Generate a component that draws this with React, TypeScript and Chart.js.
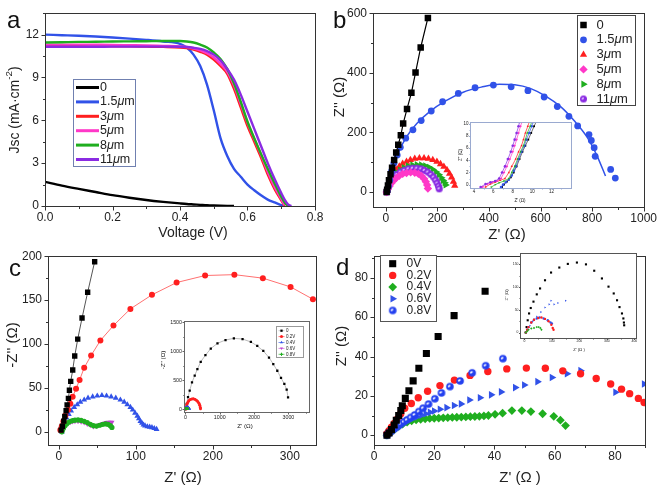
import React, { useEffect, useRef } from 'react';
import { Chart, registerables } from 'chart.js';

Chart.register(...registerables);

const FONT = '"Liberation Sans", Arial, Helvetica, sans-serif';
const INK = '#222222';

const BLACK = '#000000';
const BLUE = '#3152e8';
const RED = '#ff1f1f';
const PINK = '#ff38c8';
const GREEN = '#1fae1f';
const PURPLE = '#8a2be2';
const MAGENTA = '#c040d0';

// ---------------- panel a : J–V ----------------
const voltage = [0, 0.05, 0.1, 0.15, 0.2, 0.25, 0.3, 0.35, 0.4, 0.42, 0.44, 0.46, 0.48, 0.5, 0.52, 0.54, 0.56, 0.58, 0.6, 0.62, 0.64, 0.66, 0.68, 0.7, 0.71, 0.72, 0.73];
const jsc0 = [1.69, 1.43, 1.2, 0.98, 0.76, 0.58, 0.42, 0.29, 0.18, 0.14, 0.11, 0.08, 0.05, 0.03, 0.015, 0.005, 0, null, null, null, null, null, null, null, null, null, null];
const jsc15 = [12.0, 11.96, 11.92, 11.87, 11.8, 11.72, 11.63, 11.52, 11.36, 11.1, 10.6, 9.8, 8.5, 6.7, 4.75, 3.5, 2.6, 2.05, 1.5, 1.1, 0.75, 0.45, 0.25, 0.06, 0, null, null];
const jsc3 = [11.2, 11.2, 11.2, 11.2, 11.19, 11.18, 11.16, 11.14, 11.1, 11.05, 10.95, 10.8, 10.6, 10.25, 9.8, 9.25, 8.2, 6.9, 5.6, 4.5, 3.4, 2.2, 1.2, 0.4, 0, null, null];
const jsc5 = [11.3, 11.3, 11.3, 11.29, 11.28, 11.26, 11.24, 11.21, 11.18, 11.13, 11.03, 10.9, 10.7, 10.4, 9.95, 9.4, 8.45, 7.15, 5.85, 4.7, 3.6, 2.4, 1.35, 0.5, 0.05, null, null];
const jsc8 = [11.45, 11.47, 11.49, 11.5, 11.52, 11.53, 11.54, 11.55, 11.55, 11.52, 11.45, 11.3, 11.1, 10.75, 10.3, 9.6, 8.6, 7.3, 5.9, 4.75, 3.65, 2.6, 1.6, 0.65, 0.25, 0, null];
const jsc11 = [11.15, 11.15, 11.15, 11.15, 11.16, 11.16, 11.16, 11.16, 11.15, 11.13, 11.08, 11.0, 10.85, 10.6, 10.2, 9.6, 8.85, 7.8, 6.6, 5.4, 4.2, 3.0, 1.9, 0.9, 0.45, 0.12, 0];
const labelsA = ['0', '1.5μm', '3μm', '5μm', '8μm', '11μm'];
const ticksAx = [0, 0.2, 0.4, 0.6, 0.8];
const minorAx = [0.1, 0.3, 0.5, 0.7];
const ticksAy = [0, 3, 6, 9, 12];
const minorAy = [1.5, 4.5, 7.5, 10.5, 13.5];

// ---------------- panel b : Nyquist (thickness) ----------------
const bRe0 = [3, 5, 8, 12, 18, 24, 32, 40, 48, 58, 67, 82, 99, 115, 135, 163];
const bIm0 = [0, 8, 22, 40, 60, 82, 108, 133, 159, 191, 230, 279, 333, 401, 485, 584];
const bRe15 = [5, 10, 15, 22, 31, 44, 56, 77, 105, 137, 176, 220, 281, 346, 417, 486, 551, 614, 665, 710, 744, 788, 797, 808, 812, 872, 890];
const bIm15 = [3, 20, 40, 70, 97, 124, 150, 181, 209, 240, 272, 303, 331, 350, 359, 353, 340, 319, 287, 254, 222, 193, 173, 149, 120, 76, 47];
const bFitRe = [0, 10, 25, 50, 80, 120, 170, 230, 300, 370, 440, 500, 560, 620, 680, 730, 780, 820, 852];
const bFitIm = [0, 35, 80, 135, 185, 230, 270, 305, 335, 352, 362, 360, 348, 322, 285, 240, 185, 120, 54];
const bRe3 = [3, 6, 10, 15, 22, 30, 40, 52, 65, 80, 95, 112, 130, 148, 165, 182, 198, 212, 225, 237, 247, 255, 262, 267];
const bIm3 = [0, 12, 25, 38, 52, 64, 75, 86, 95, 102, 108, 112, 114, 114, 112, 108, 102, 94, 85, 74, 62, 49, 35, 22];
const bRe5 = [3, 8, 14, 21, 30, 40, 52, 65, 80, 96, 112, 126, 138, 148, 155, 160, 163];
const bIm5 = [0, 10, 20, 30, 39, 47, 55, 61, 64, 66, 65, 61, 54, 45, 35, 24, 12];
const bRe8 = [3, 6, 10, 16, 23, 32, 42, 55, 70, 86, 103, 120, 137, 153, 168, 182, 195, 206, 215, 222, 228, 232];
const bIm8 = [0, 10, 22, 34, 45, 56, 65, 74, 82, 88, 91, 92, 91, 88, 83, 76, 67, 58, 48, 39, 31, 24];
const bRe11 = [3, 6, 10, 16, 23, 32, 43, 56, 71, 87, 103, 120, 136, 150, 163, 175, 185, 193, 199, 204, 207];
const bIm11 = [0, 9, 19, 30, 40, 50, 59, 67, 73, 78, 80, 80, 78, 73, 67, 59, 50, 40, 30, 20, 11];
const labelsB = ['0', '1.5μm', '3μm', '5μm', '8μm', '11μm'];
const ticksBx = [0, 200, 400, 600, 800, 1000];
const minorBx = [100, 300, 500, 700, 900];
const ticksBy = [0, 200, 400, 600];
const minorBy = [100, 300, 500];

// inset b (high-frequency zoom)
const biRe11 = [4.7, 5.2, 5.7, 6.2, 6.6, 6.9, 7.2, 7.5, 7.8, 8.0, 8.2, 8.4, 8.6, 8.7];
const biIm11 = [-0.4, 0.1, 0.4, 0.6, 1.0, 2.0, 3.0, 4.2, 5.4, 6.4, 7.4, 8.5, 9.6, 10.3];
const biRe5 = [4.9, 5.4, 5.9, 6.4, 6.8, 7.1, 7.4, 7.7, 8.0, 8.2, 8.4, 8.6, 8.8, 8.95];
const biIm5 = [-0.4, 0.1, 0.4, 0.6, 1.0, 2.0, 3.0, 4.2, 5.4, 6.4, 7.4, 8.5, 9.6, 10.3];
const biRe3 = [5.2, 5.7, 6.2, 6.7, 7.2, 7.6, 7.9, 8.3, 8.6, 8.9, 9.1, 9.3, 9.55, 9.7];
const biIm3 = [-0.4, 0.1, 0.4, 0.7, 1.0, 2.0, 3.0, 4.2, 5.4, 6.4, 7.4, 8.5, 9.6, 10.3];
const biRe8 = [5.8, 6.2, 6.6, 7.1, 7.6, 7.9, 8.2, 8.5, 8.8, 9.1, 9.3, 9.5, 9.8, 9.95];
const biIm8 = [-0.4, 0, 0.3, 0.6, 1.0, 2.0, 3.0, 4.2, 5.4, 6.4, 7.4, 8.5, 9.6, 10.3];
const biRe15 = [6.8, 7.0, 7.3, 7.6, 7.9, 8.1, 8.3, 8.6, 8.9, 9.2, 9.4, 9.7, 9.95, 10.1];
const biIm15 = [-0.4, 0, 0.4, 0.8, 1.5, 2.3, 3.0, 4.2, 5.4, 6.4, 7.4, 8.5, 9.6, 10.3];
const biRe0 = [6.9, 7.1, 7.4, 7.8, 8.1, 8.4, 8.7, 9.0, 9.3, 9.6, 9.9, 10.2, 10.4];
const biIm0 = [-0.4, 0, 0.5, 1.2, 2.0, 3.0, 4.2, 5.4, 6.4, 7.4, 8.5, 9.6, 10.3];
const ticksBix = [4, 6, 8, 10, 12];
const minorBix = [5, 7, 9, 11, 13];
const ticksBiy = [0, 2, 4, 6, 8, 10];
const minorBiy = [1, 3, 5, 7, 9];

// ---------------- panel c : Nyquist (bias, reference) ----------------
const cRe0 = [3, 4.7, 6.5, 7.8, 9.5, 10.8, 12.5, 13.8, 15.5, 18.1, 20.7, 24.6, 30.2, 37.5, 46.6];
const cIm0 = [1.9, 6.3, 12.2, 17.4, 24, 30.7, 38.1, 47.4, 57.4, 70.4, 86.3, 105.6, 129.6, 159, 193.7];
const cRe02 = [2, 3.9, 6, 8.6, 12, 15, 18, 22.4, 27, 33, 42, 54, 71, 93, 121, 153, 190, 228, 265, 301, 330];
const cIm02 = [2, 6.3, 12, 18.5, 25, 32, 40, 49, 59, 73, 87, 104, 121, 140, 156, 170, 178, 179, 175, 165, 151];
const cRe04 = [4, 5, 6, 8, 10, 13, 16, 20, 24, 28, 33, 38, 44, 50, 56, 62, 68, 74, 80, 85, 89, 93, 96, 99, 102, 104, 106, 108, 110, 112, 115, 118, 121, 124, 127];
const cIm04 = [0, 4, 8, 12, 16, 20, 24, 28, 31, 34, 36.5, 38.5, 40, 41, 41.5, 41, 40, 38.5, 36.5, 34, 31, 28, 25, 21.5, 18, 15, 12, 10, 8, 7, 6, 5.5, 5, 4, 3];
const cRe06 = [4, 5, 6, 8, 10, 12, 15, 18, 21, 25, 29, 33, 37, 41, 45, 49, 53, 57, 61, 64, 67, 69];
const cIm06 = [0, 2, 4, 6.5, 8.5, 10, 11, 11.8, 12, 12, 11.5, 10.5, 9, 7.5, 6.2, 6.5, 8, 9.5, 10.5, 10.8, 11, 11];
const cRe08 = [4, 5, 6, 8, 10, 12, 15, 18, 21, 25, 29, 33, 37, 41, 45, 49, 53, 57, 61, 64, 67, 69];
const cIm08 = [0, 2.5, 4.5, 7, 9, 10.5, 12, 12.8, 13.3, 13.5, 13, 12, 10.5, 8.5, 7, 6.5, 7.5, 8.5, 9, 8.5, 7, 5];
const ticksCx = [0, 100, 200, 300];
const minorCx = [50, 150, 250];
const ticksCy = [0, 50, 100, 150, 200];
const minorCy = [25, 75, 125, 175];

// inset c (full range)
const ciRe0 = [0, 20, 38, 77, 126, 193, 272, 350, 447, 584, 740, 935, 1169, 1412, 1665, 1908, 2093, 2269, 2435, 2560, 2677, 2785, 2882, 2950, 2990];
const ciIm0 = [0, 40, 92, 206, 321, 463, 578, 693, 819, 933, 1047, 1139, 1196, 1225, 1213, 1162, 1093, 1007, 893, 779, 664, 539, 436, 338, 205];
const ciRe02 = [20, 30, 45, 70, 100, 140, 185, 230, 275, 320, 360, 395, 420, 435, 440];
const ciIm02 = [0, 40, 80, 115, 145, 165, 175, 178, 172, 155, 130, 100, 65, 30, 5];
const labelsC = ['0', '0.2V', '0.4V', '0.6V', '0.8V'];
const ticksCix = [0, 1000, 2000, 3000];
const minorCix = [500, 1500, 2500, 3500];
const ticksCiy = [0, 500, 1000, 1500];
const minorCiy = [250, 750, 1250];

// ---------------- panel d : Nyquist (bias, device) ----------------
const dRe0 = [4.3, 5, 5.8, 6.7, 7.4, 8.2, 8.9, 9.4, 10.4, 11.6, 13, 14.9, 17.4, 21.3, 26.6, 36.9];
const dIm0 = [0, 1.1, 2.8, 5.2, 7.6, 10, 12.5, 15, 18.7, 22.6, 27.6, 34, 41.5, 50.2, 60.8, 73.2];
const dRe02 = [4.3, 5, 5.8, 6.7, 7.7, 8.9, 10.2, 12.4, 14.7, 17.8, 21.9, 26.7, 31.9, 37.8, 44.1, 50.6, 56.9, 62.7, 68.6, 73.8, 78.6, 82.2, 84.9, 87.8, 89.7];
const dIm02 = [0.8, 2.3, 4.1, 6, 8.1, 10.9, 13.7, 16.1, 19, 22.3, 25.2, 28, 30.4, 32.4, 33.7, 34.1, 34, 32.7, 31.2, 28.8, 26, 23.4, 21.1, 18.7, 16.6];
const dRe04 = [4.3, 5, 6, 7, 8.2, 9.5, 11, 12.5, 14, 15.5, 17, 18.5, 20, 21.5, 23, 24.5, 26, 27.5, 29, 30.5, 32, 33.5, 35, 36.5, 38, 40.2, 42.7, 45.8, 49.1, 52.1, 56, 59.7, 61.9, 63.6];
const dIm04 = [0, 1, 2, 3.2, 4.5, 5.6, 6.6, 7.3, 7.8, 8.1, 8.3, 8.5, 8.6, 8.7, 8.8, 8.9, 9, 9.1, 9.2, 9.3, 9.4, 9.5, 9.6, 9.8, 10, 10.6, 11.2, 12.5, 12.5, 12, 10.9, 9.6, 7.6, 4.9];
const dRe06 = [4.3, 5, 5.8, 6.7, 7.7, 8.8, 10, 11.3, 12.7, 14.2, 15.8, 17.2, 18.6, 20, 21.9, 24.1, 26.6, 28.9, 31.7, 35.2, 38.9, 42.2, 46.9, 49.9, 54.3, 59.1, 64.1, 68.6, 80.2, 89.7];
const dIm06 = [0, 1.2, 2.4, 3.5, 4.6, 5.6, 6.6, 7.5, 8.4, 9.3, 10.2, 10.9, 11.6, 12.3, 13.2, 14, 15.1, 15.9, 17.9, 19, 20.5, 22, 24.2, 25.5, 27.2, 29.3, 31.2, 32.8, 21.8, 26];
const dRe08 = [4.3, 4.8, 5.4, 6, 6.7, 7.4, 8.2, 9, 10, 11, 12.2, 13.5, 14.9, 16.3, 18.1, 20.2, 22.4, 25.2, 28.6, 32.6, 37.1, 42.8];
const dIm08 = [0, 0.8, 1.6, 2.4, 3.2, 4, 4.9, 5.8, 6.8, 7.8, 9, 10.3, 12, 13.7, 15.8, 18.5, 21.5, 24.7, 27.6, 31.7, 35.3, 38.9];
const labelsD = ['0V', '0.2V', '0.4V', '0.6V', '0.8V'];
const ticksDx = [0, 20, 40, 60, 80];
const minorDx = [10, 30, 50, 70, 90];
const ticksDy = [0, 20, 40, 60, 80];
const minorDy = [10, 30, 50, 70, 90];

// inset d
const diRe0 = [5, 8, 12, 17, 23, 33, 45, 57, 75, 97, 127, 158, 191, 224, 254, 282, 306, 325, 337, 346, 355, 360, 362, 363];
const diIm0 = [0, 12, 27, 42, 54, 68, 84, 97, 115, 132, 143, 151, 154, 150, 136, 119, 101, 86, 71, 56, 42, 31, 22, 16];
const diRe02 = [5, 10, 15, 25, 35, 50, 62, 75, 88, 98, 103, 106];
const diIm02 = [0, 6, 12, 22, 28, 32, 33, 30, 25, 17, 10, 6];
const diRe04 = [5, 10, 15, 25, 35, 45, 52, 58, 62];
const diIm04 = [0, 3, 6, 9, 10, 12, 12, 10, 6];
const diRe06 = [5, 10, 20, 30, 45, 60, 75, 90, 97, 108, 122, 150];
const diIm06 = [0, 5, 15, 25, 35, 45, 55, 62, 70, 62, 65, 70];
const diRe08 = [5, 10, 15, 25, 35, 45, 55, 70, 85, 95, 100];
const diIm08 = [0, 6, 12, 22, 28, 31, 33, 31, 27, 22, 20];
const ticksDix = [0, 100, 200, 300, 400];
const minorDix = [50, 150, 250, 350];
const ticksDiy = [0, 50, 100, 150];
const minorDiy = [25, 75, 125];

// ---------------- helpers ----------------
type Mk = { style: string; r: number; color: string; rot?: number; img?: HTMLCanvasElement };
type Seg = { t: string; italic?: boolean; sup?: boolean };

function pts(xs: number[], ys: (number | null)[]) {
  const out: { x: number; y: number }[] = [];
  xs.forEach((x, i) => {
    const y = ys[i];
    if (y !== null && y !== undefined) out.push({ x, y });
  });
  return out;
}

function markerDs(xs: number[], ys: number[], mk: Mk, extra: any = {}) {
  return {
    data: pts(xs, ys),
    showLine: false,
    pointStyle: mk.img ?? mk.style,
    pointRadius: mk.r,
    pointRotation: mk.rot ?? 0,
    pointBackgroundColor: mk.color,
    pointBorderColor: mk.color,
    pointBorderWidth: 0,
    ...extra,
  };
}

function lineDs(xs: number[], ys: (number | null)[], color: string, width: number, extra: any = {}) {
  return {
    data: pts(xs, ys),
    showLine: true,
    borderColor: color,
    borderWidth: width,
    pointRadius: 0,
    cubicInterpolationMode: 'monotone',
    ...extra,
  };
}

function ballImage(color: string, r: number, inner: string, scale: number) {
  const c = document.createElement('canvas');
  const s = Math.ceil(r * 2 + 2);
  c.width = s;
  c.height = s;
  const g = c.getContext('2d')!;
  g.fillStyle = color;
  g.beginPath();
  g.arc(s / 2, s / 2, r, 0, Math.PI * 2);
  g.fill();
  g.fillStyle = inner;
  g.beginPath();
  g.ellipse(s / 2 - r * 0.2, s / 2 - r * 0.15, r * 0.42 * scale, r * 0.26 * scale, -0.6, 0, Math.PI * 2);
  g.fill();
  return c;
}

function richSegs(text: string): Seg[] {
  const out: Seg[] = [];
  let buf = '';
  for (const ch of text) {
    if (ch === 'μ') {
      if (buf) out.push({ t: buf });
      out.push({ t: ch, italic: true });
      buf = '';
    } else buf += ch;
  }
  if (buf) out.push({ t: buf });
  return out;
}

function drawRich(ctx: CanvasRenderingContext2D, segs: Seg[], x: number, y: number, size: number, align: string) {
  const fontOf = (s: Seg) => `${s.italic ? 'italic ' : ''}${s.sup ? size * 0.7 : size}px ${FONT}`;
  let total = 0;
  for (const s of segs) {
    ctx.font = fontOf(s);
    total += ctx.measureText(s.t).width;
  }
  let cx = align === 'center' ? x - total / 2 : x;
  ctx.textAlign = 'left';
  ctx.textBaseline = 'middle';
  for (const s of segs) {
    ctx.font = fontOf(s);
    ctx.fillText(s.t, cx, s.sup ? y - size * 0.38 : y);
    cx += ctx.measureText(s.t).width;
  }
}

function drawMarker(ctx: CanvasRenderingContext2D, m: Mk, x: number, y: number) {
  if (m.img) {
    ctx.drawImage(m.img, x - m.img.width / 2, y - m.img.height / 2);
    return;
  }
  const r = m.r;
  ctx.save();
  ctx.translate(x, y);
  ctx.rotate(((m.rot || 0) * Math.PI) / 180);
  ctx.fillStyle = m.color;
  ctx.strokeStyle = m.color;
  ctx.beginPath();
  if (m.style === 'rect') {
    const s = r * Math.SQRT1_2;
    ctx.rect(-s, -s, 2 * s, 2 * s);
    ctx.fill();
  } else if (m.style === 'circle') {
    ctx.arc(0, 0, r, 0, Math.PI * 2);
    ctx.fill();
  } else if (m.style === 'triangle') {
    for (let k = 0; k < 3; k++) {
      const a = (k * 2 * Math.PI) / 3;
      const px = Math.sin(a) * r;
      const py = -Math.cos(a) * r;
      if (k === 0) ctx.moveTo(px, py);
      else ctx.lineTo(px, py);
    }
    ctx.closePath();
    ctx.fill();
  } else if (m.style === 'rectRot') {
    ctx.moveTo(0, -r);
    ctx.lineTo(r, 0);
    ctx.lineTo(0, r);
    ctx.lineTo(-r, 0);
    ctx.closePath();
    ctx.fill();
  } else if (m.style === 'star') {
    ctx.lineWidth = 1;
    ctx.moveTo(-r, 0);
    ctx.lineTo(r, 0);
    ctx.moveTo(0, -r);
    ctx.lineTo(0, r);
    ctx.stroke();
  }
  ctx.restore();
}

type Axis = { min: number; max: number; major: number[]; minor: number[]; fmt?: (v: number) => string; font: number; pad: number };
type Title = { segs: Seg[]; x: number; y: number; size: number; rot?: boolean };
type LegendRow = { label: string; marker?: Mk; line?: string; lineW?: number };
type Legend = { box: number[]; border: string; rows: LegendRow[]; y0: number; dy: number; mx: number; half?: number; tx: number; font: number };
type Spec = {
  cx: number; cy: number; cw: number; ch: number;
  box: number[];
  x: Axis; y: Axis;
  datasets: any[];
  frame: string;
  tickLen: number; minorLen: number;
  titles: Title[];
  letter?: { text: string; x: number; y: number; size: number };
  legend?: Legend;
  bg?: string;
};

function decorPlugin(s: Spec) {
  return {
    id: 'decor',
    beforeDatasetsDraw(chart: any) {
      if (!s.bg) return;
      const { ctx, chartArea: a } = chart;
      ctx.save();
      ctx.fillStyle = s.bg;
      ctx.fillRect(a.left, a.top, a.right - a.left, a.bottom - a.top);
      ctx.restore();
    },
    afterDraw(chart: any) {
      const { ctx, chartArea: a, scales } = chart;
      const ox = s.cx;
      const oy = s.cy;
      ctx.save();
      ctx.strokeStyle = s.frame;
      ctx.lineWidth = 1;
      const bottom = Math.round(a.bottom) + 0.5;
      const left = Math.round(a.left) + 0.5;
      ctx.beginPath();
      const xt = (vals: number[], len: number) => {
        for (const v of vals) {
          const p = Math.round(scales.x.getPixelForValue(v)) + 0.5;
          if (p < a.left - 1 || p > a.right + 1) continue;
          ctx.moveTo(p, bottom);
          ctx.lineTo(p, bottom + len);
        }
      };
      const yt = (vals: number[], len: number) => {
        for (const v of vals) {
          const p = Math.round(scales.y.getPixelForValue(v)) + 0.5;
          if (p < a.top - 1 || p > a.bottom + 1) continue;
          ctx.moveTo(left, p);
          ctx.lineTo(left - len, p);
        }
      };
      xt(s.x.major, s.tickLen);
      xt(s.x.minor, s.minorLen);
      yt(s.y.major, s.tickLen);
      yt(s.y.minor, s.minorLen);
      ctx.stroke();
      ctx.strokeRect(left, Math.round(a.top) + 0.5, Math.round(a.right) - Math.round(a.left), Math.round(a.bottom) - Math.round(a.top));

      ctx.fillStyle = INK;
      for (const t of s.titles) {
        ctx.save();
        ctx.translate(t.x - ox, t.y - oy);
        if (t.rot) ctx.rotate(-Math.PI / 2);
        drawRich(ctx, t.segs, 0, 0, t.size, 'center');
        ctx.restore();
      }
      if (s.letter) {
        ctx.font = `${s.letter.size}px ${FONT}`;
        ctx.textAlign = 'left';
        ctx.textBaseline = 'alphabetic';
        ctx.fillStyle = '#111';
        ctx.fillText(s.letter.text, s.letter.x - ox, s.letter.y - oy);
      }
      const lg = s.legend;
      if (lg) {
        const [x0, y0, x1, y1] = lg.box;
        ctx.fillStyle = '#ffffff';
        ctx.fillRect(x0 - ox, y0 - oy, x1 - x0, y1 - y0);
        ctx.strokeStyle = lg.border;
        ctx.lineWidth = 1;
        ctx.strokeRect(Math.round(x0 - ox) + 0.5, Math.round(y0 - oy) + 0.5, Math.round(x1 - x0), Math.round(y1 - y0));
        lg.rows.forEach((row, i) => {
          const yy = lg.y0 + i * lg.dy - oy;
          const mx = lg.mx - ox;
          if (row.line) {
            ctx.strokeStyle = row.line;
            ctx.lineWidth = row.lineW ?? 1;
            ctx.beginPath();
            ctx.moveTo(mx - (lg.half ?? 0), yy);
            ctx.lineTo(mx + (lg.half ?? 0), yy);
            ctx.stroke();
          }
          if (row.marker) drawMarker(ctx, row.marker, mx, yy);
          ctx.fillStyle = INK;
          drawRich(ctx, richSegs(row.label), lg.tx - ox, yy, lg.font, 'left');
        });
      }
      ctx.restore();
    },
  };
}

function axisOpts(ax: Axis, horizontal: boolean, size: number) {
  return {
    type: 'linear',
    min: ax.min,
    max: ax.max,
    afterBuildTicks: (sc: any) => {
      sc.ticks = ax.major.map((v) => ({ value: v }));
    },
    afterFit: (sc: any) => {
      if (horizontal) sc.height = size;
      else sc.width = size;
    },
    ticks: {
      autoSkip: false,
      maxRotation: 0,
      minRotation: 0,
      padding: ax.pad,
      color: INK,
      font: { family: FONT, size: ax.font },
      callback: (v: number) => (ax.fmt ? ax.fmt(v) : String(v)),
    },
    grid: { display: false, drawTicks: false },
    border: { display: false },
  };
}

function makePlot(canvas: HTMLCanvasElement, s: Spec) {
  const [L, T, R, B] = s.box;
  return new Chart(canvas, {
    type: 'scatter',
    data: { datasets: s.datasets },
    options: {
      responsive: false,
      animation: false,
      devicePixelRatio: 1,
      events: [],
      layout: { autoPadding: false, padding: { left: 0, top: T - s.cy, right: s.cx + s.cw - R, bottom: 0 } },
      plugins: { legend: { display: false }, tooltip: { enabled: false } },
      scales: {
        x: axisOpts(s.x, true, s.cy + s.ch - B),
        y: axisOpts(s.y, false, L - s.cx),
      },
    } as any,
    plugins: [decorPlugin(s) as any],
  });
}

const T = (text: string): Seg[] => [{ t: text }];

// ---------------- specs ----------------
const RECT_A = { x: 0, y: 0, w: 330, h: 243 };
const RECT_B = { x: 330, y: 0, w: 331, h: 243 };
const RECT_BI = { x: 452, y: 117, w: 123, h: 89 };
const RECT_C = { x: 0, y: 243, w: 330, h: 243 };
const RECT_CI = { x: 155, y: 316, w: 158, h: 117 };
const RECT_D = { x: 330, y: 243, w: 331, h: 243 };
const RECT_DI = { x: 498, y: 249, w: 143, h: 108 };

function frameOf(r: { x: number; y: number; w: number; h: number }) {
  return { cx: r.x, cy: r.y, cw: r.w, ch: r.h };
}

function specA(): Spec {
  const colors = [BLACK, BLUE, RED, PINK, GREEN, PURPLE];
  const series = [jsc0, jsc15, jsc3, jsc5, jsc8, jsc11];
  const ds = series.map((ys, i) => lineDs(voltage, ys, colors[i], 2.4));
  return {
    ...frameOf(RECT_A),
    box: [45, 8, 315, 206],
    x: { min: 0, max: 0.8, major: ticksAx, minor: minorAx, fmt: (v) => v.toFixed(1), font: 12, pad: 4 },
    y: { min: 0, max: 13.5, major: ticksAy, minor: minorAy, font: 12, pad: 6 },
    datasets: ds.reverse(),
    frame: '#333',
    tickLen: 4,
    minorLen: 2.5,
    titles: [
      { segs: T('Voltage (V)'), x: 193, y: 233, size: 14 },
      { segs: [{ t: 'Jsc (mA·cm' }, { t: '-2', sup: true }, { t: ')' }], x: 15, y: 110, size: 14, rot: true },
    ],
    letter: { text: 'a', x: 7, y: 28, size: 24 },
    legend: {
      box: [73, 79, 135, 166],
      border: '#7080b0',
      rows: labelsA.map((l, i) => ({ label: l, line: colors[i], lineW: 3 })),
      y0: 87.5,
      dy: 14.4,
      mx: 87.5,
      half: 11.5,
      tx: 100,
      font: 12.5,
    },
  };
}

function specB(): Spec {
  const purpleBall = ballImage(PURPLE, 3.5, 'rgba(225,195,255,0.95)', 1);
  const mks: Mk[] = [
    { style: 'rect', r: 4.6, color: BLACK },
    { style: 'circle', r: 3.4, color: BLUE },
    { style: 'triangle', r: 4.2, color: RED },
    { style: 'rectRot', r: 4.2, color: PINK },
    { style: 'triangle', r: 4.2, color: GREEN, rot: 90 },
    { style: 'circle', r: 3.5, color: PURPLE, img: purpleBall },
  ];
  return {
    ...frameOf(RECT_B),
    box: [373, 7, 646, 207],
    x: { min: -50, max: 1000, major: ticksBx, minor: minorBx, font: 12, pad: 4 },
    y: { min: -50, max: 600, major: ticksBy, minor: minorBy, font: 12, pad: 6 },
    datasets: [
      lineDs(bRe0, bIm0, BLACK, 1.2, { cubicInterpolationMode: 'default', tension: 0 }),
      markerDs(bRe0, bIm0, mks[0]),
      lineDs(bFitRe, bFitIm, BLUE, 1.5),
      markerDs(bRe15, bIm15, mks[1]),
      markerDs(bRe5, bIm5, mks[3]),
      markerDs(bRe11, bIm11, mks[5]),
      markerDs(bRe8, bIm8, mks[4]),
      markerDs(bRe3, bIm3, mks[2]),
    ],
    frame: '#333',
    tickLen: 4,
    minorLen: 2.5,
    titles: [
      { segs: T("Z' (Ω)"), x: 507, y: 235, size: 15 },
      { segs: T("Z'' (Ω)"), x: 340, y: 97, size: 15, rot: true },
    ],
    letter: { text: 'b', x: 333, y: 28, size: 24 },
    legend: {
      box: [577, 15, 635, 105],
      border: '#444',
      rows: labelsB.map((l, i) => ({ label: l, marker: mks[i] })),
      y0: 25,
      dy: 14.8,
      mx: 583.5,
      tx: 596.5,
      font: 13,
    },
  };
}

function specBi(): Spec {
  const lw = 0.7;
  const m = (color: string, style: string, rot = 0): Mk => ({ style, r: 1.3, color, rot });
  return {
    ...frameOf(RECT_BI),
    box: [470, 122, 571, 188],
    x: { min: 3.6, max: 14, major: ticksBix, minor: minorBix, font: 4.5, pad: 1.5 },
    y: { min: -0.55, max: 10.3, major: ticksBiy, minor: minorBiy, font: 4.5, pad: 1.5 },
    datasets: [
      markerDs(biRe11, biIm11, m(PURPLE, 'circle'), { showLine: true, borderColor: PURPLE, borderWidth: lw }),
      markerDs(biRe5, biIm5, m(PINK, 'rectRot'), { showLine: true, borderColor: PINK, borderWidth: lw }),
      markerDs(biRe3, biIm3, m(RED, 'triangle'), { showLine: true, borderColor: RED, borderWidth: lw }),
      markerDs(biRe8, biIm8, m(GREEN, 'triangle', 90), { showLine: true, borderColor: GREEN, borderWidth: lw }),
      markerDs(biRe15, biIm15, m(BLUE, 'circle'), { showLine: true, borderColor: BLUE, borderWidth: lw }),
      markerDs(biRe0, biIm0, m(BLACK, 'rect'), { showLine: true, borderColor: '#333', borderWidth: lw }),
    ],
    frame: '#9aaad0',
    tickLen: 1.5,
    minorLen: 1,
    titles: [
      { segs: T("Z' (Ω)"), x: 520, y: 200.5, size: 4.5 },
      { segs: T("Z'' (Ω)"), x: 461, y: 155, size: 4.5, rot: true },
    ],
    bg: '#ffffff',
  };
}

function specC(): Spec {
  return {
    ...frameOf(RECT_C),
    box: [48, 250, 316, 445],
    x: { min: -14, max: 334, major: ticksCx, minor: minorCx, font: 12, pad: 4 },
    y: { min: -15, max: 200, major: ticksCy, minor: minorCy, font: 12, pad: 6 },
    datasets: [
      markerDs(cRe0, cIm0, { style: 'rect', r: 3.8, color: BLACK }, { showLine: true, borderColor: '#555', borderWidth: 1 }),
      markerDs(cRe02, cIm02, { style: 'circle', r: 3, color: RED }, { showLine: true, borderColor: '#ff7070', borderWidth: 1 }),
      markerDs(cRe08, cIm08, { style: 'circle', r: 2.6, color: GREEN }),
      markerDs(cRe06, cIm06, { style: 'triangle', r: 3, color: MAGENTA, rot: 180 }),
      markerDs(cRe04, cIm04, { style: 'triangle', r: 3.4, color: BLUE }),
    ],
    frame: '#333',
    tickLen: 4,
    minorLen: 2.5,
    titles: [
      { segs: T("Z' (Ω)"), x: 183, y: 478, size: 15 },
      { segs: T("-Z'' (Ω)"), x: 13, y: 345, size: 15, rot: true },
    ],
    letter: { text: 'c', x: 9, y: 276, size: 24 },
  };
}

function specCi(): Spec {
  const mks: Mk[] = [
    { style: 'rect', r: 1.6, color: BLACK },
    { style: 'circle', r: 1.5, color: RED },
    { style: 'triangle', r: 1.7, color: BLUE },
    { style: 'triangle', r: 1.7, color: MAGENTA, rot: 180 },
    { style: 'star', r: 1.6, color: GREEN },
  ];
  return {
    ...frameOf(RECT_CI),
    box: [184, 320, 309, 412],
    x: { min: -40, max: 3600, major: ticksCix, minor: minorCix, font: 5.3, pad: 2 },
    y: { min: -50, max: 1522, major: ticksCiy, minor: minorCiy, font: 5.3, pad: 2 },
    datasets: [
      markerDs(cRe08, cIm08, { style: 'circle', r: 1.2, color: GREEN }),
      markerDs(cRe06, cIm06, { style: 'circle', r: 1.2, color: MAGENTA }),
      markerDs(cRe04, cIm04, { style: 'triangle', r: 1.4, color: BLUE }),
      markerDs(ciRe02, ciIm02, mks[1], { showLine: true, borderColor: RED, borderWidth: 2.2, cubicInterpolationMode: 'default', tension: 0.4 }),
      markerDs(ciRe0, ciIm0, mks[0], { showLine: true, borderColor: '#aaaaaa', borderWidth: 0.8 }),
    ],
    frame: '#666',
    tickLen: 2,
    minorLen: 1.2,
    titles: [
      { segs: T("Z' (Ω)"), x: 245, y: 426, size: 6.2 },
      { segs: T("-Z'' (Ω)"), x: 163.5, y: 360, size: 6.2, rot: true },
    ],
    bg: '#ffffff',
    legend: {
      box: [276, 326, 303, 357],
      border: '#999',
      rows: labelsC.map((l, i) => ({ label: l, marker: mks[i], line: ['#aaaaaa', RED, BLUE, MAGENTA, GREEN][i], lineW: 0.6 })),
      y0: 330.7,
      dy: 5.9,
      mx: 281.5,
      half: 3,
      tx: 286,
      font: 4.5,
    },
  };
}

function specD(): Spec {
  const ball = ballImage('#2340f0', 3.8, 'rgba(255,255,255,0.95)', 1);
  const mks: Mk[] = [
    { style: 'rect', r: 5, color: BLACK },
    { style: 'circle', r: 3.7, color: RED },
    { style: 'rectRot', r: 4.4, color: GREEN },
    { style: 'triangle', r: 4.4, color: BLUE, rot: 90 },
    { style: 'circle', r: 3.8, color: BLUE, img: ball },
  ];
  return {
    ...frameOf(RECT_D),
    box: [374, 248, 645, 445],
    x: { min: 0, max: 90, major: ticksDx, minor: minorDx, font: 12, pad: 4 },
    y: { min: -5, max: 91, major: ticksDy, minor: minorDy, font: 12, pad: 6 },
    datasets: [
      markerDs(dRe0, dIm0, mks[0]),
      markerDs(dRe08, dIm08, mks[4]),
      markerDs(dRe02, dIm02, mks[1]),
      markerDs(dRe06, dIm06, mks[3]),
      markerDs(dRe04, dIm04, mks[2]),
    ],
    frame: '#333',
    tickLen: 4,
    minorLen: 2.5,
    titles: [
      { segs: T("Z' (Ω )"), x: 520, y: 478, size: 15 },
      { segs: T("Z'' (Ω)"), x: 342, y: 346, size: 15, rot: true },
    ],
    letter: { text: 'd', x: 336, y: 275, size: 24 },
    legend: {
      box: [380, 255, 436, 321],
      border: '#555',
      rows: labelsD.map((l, i) => ({ label: l, marker: mks[i] })),
      y0: 263.7,
      dy: 11.7,
      mx: 392.7,
      tx: 406.5,
      font: 12,
    },
  };
}

function specDi(): Spec {
  const r = 1.2;
  return {
    ...frameOf(RECT_DI),
    box: [520, 253, 636, 338],
    x: { min: -16, max: 406, major: ticksDix, minor: minorDix, font: 3.4, pad: 1.5 },
    y: { min: -12, max: 175, major: ticksDiy, minor: minorDiy, font: 3.4, pad: 1.5 },
    datasets: [
      markerDs(diRe04, diIm04, { style: 'rectRot', r, color: GREEN }),
      markerDs(diRe02, diIm02, { style: 'circle', r, color: RED }),
      markerDs(diRe08, diIm08, { style: 'circle', r, color: BLUE }),
      markerDs(diRe06, diIm06, { style: 'triangle', r, color: BLUE, rot: 90 }),
      markerDs(diRe0, diIm0, { style: 'rect', r: 1.5, color: BLACK }),
    ],
    frame: '#555',
    tickLen: 1.5,
    minorLen: 1,
    titles: [
      { segs: T("Z' (Ω )"), x: 579, y: 350, size: 4.2 },
      { segs: T("Z'' (Ω)"), x: 507, y: 295, size: 4.2, rot: true },
    ],
    bg: '#ffffff',
  };
}

function PlotCanvas({ rect, build }: { rect: { x: number; y: number; w: number; h: number }; build: () => Spec }) {
  const ref = useRef<HTMLCanvasElement>(null);
  useEffect(() => {
    const chart = makePlot(ref.current!, build());
    return () => chart.destroy();
  }, []);
  return (
    <canvas
      ref={ref}
      width={rect.w}
      height={rect.h}
      style={{ position: 'absolute', left: rect.x, top: rect.y, width: rect.w, height: rect.h }}
    />
  );
}

export default function App() {
  return (
    <div style={{ position: 'absolute', left: 0, top: 0, width: 661, height: 486, background: '#ffffff', overflow: 'hidden' }}>
      <PlotCanvas rect={RECT_A} build={specA} />
      <PlotCanvas rect={RECT_B} build={specB} />
      <PlotCanvas rect={RECT_C} build={specC} />
      <PlotCanvas rect={RECT_D} build={specD} />
      <PlotCanvas rect={RECT_BI} build={specBi} />
      <PlotCanvas rect={RECT_CI} build={specCi} />
      <PlotCanvas rect={RECT_DI} build={specDi} />
    </div>
  );
}
